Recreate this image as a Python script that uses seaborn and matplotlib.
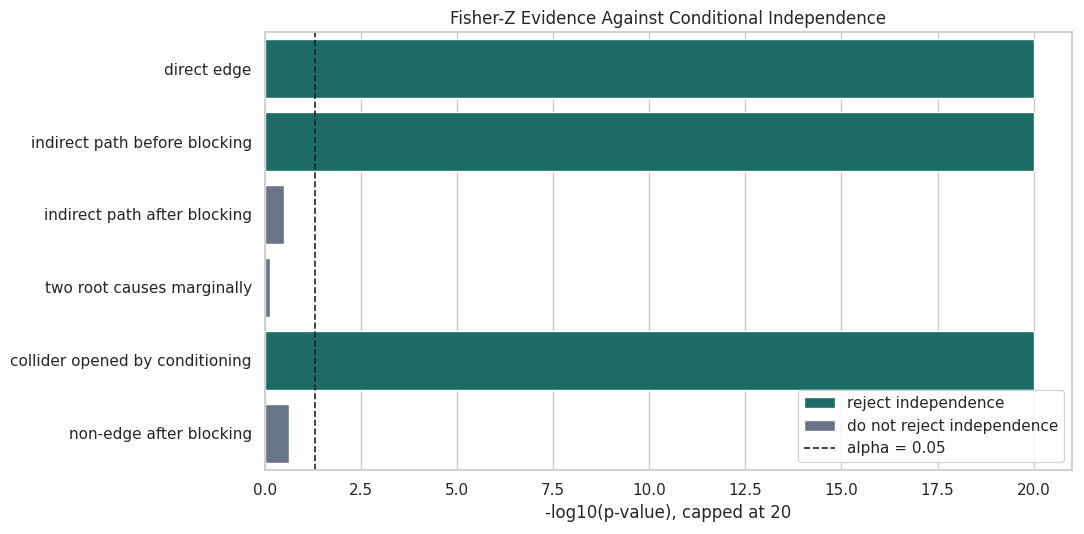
import matplotlib
matplotlib.use("Agg")
import matplotlib.pyplot as plt
import seaborn as sns
import pandas as pd
import numpy as np

tests = ["direct edge", "indirect path before blocking", "indirect path after blocking",
         "two root causes marginally", "collider opened by conditioning", "non-edge after blocking"]
scores = [20.0, 20.0, 0.49, 0.12, 20.0, 0.63]
decisions = ["reject independence", "reject independence", "do not reject independence",
             "do not reject independence", "reject independence", "do not reject independence"]
alpha = 0.05

sns.set_theme(style="whitegrid")
df = pd.DataFrame({"test": tests, "score": scores, "decision": decisions})
palette = {"reject independence": "#1d6b65", "do not reject independence": "#6a7489"}

fig, ax = plt.subplots(figsize=(10.84, 5.34), dpi=100)
sns.barplot(data=df, x="score", y="test", hue="decision", palette=palette,
            dodge=False, saturation=1, ax=ax,
            hue_order=["reject independence", "do not reject independence"])
ax.axvline(-np.log10(alpha), color="#222233", linestyle="--", linewidth=1.2, label="alpha = 0.05")
ax.set_title("Fisher-Z Evidence Against Conditional Independence")
ax.set_xlabel("-log10(p-value), capped at 20")
ax.set_ylabel("")
ax.legend(loc="lower right")
fig.subplots_adjust(left=0.2445, right=0.989, bottom=0.12, top=0.94)
fig.savefig("out.png", dpi=100)
